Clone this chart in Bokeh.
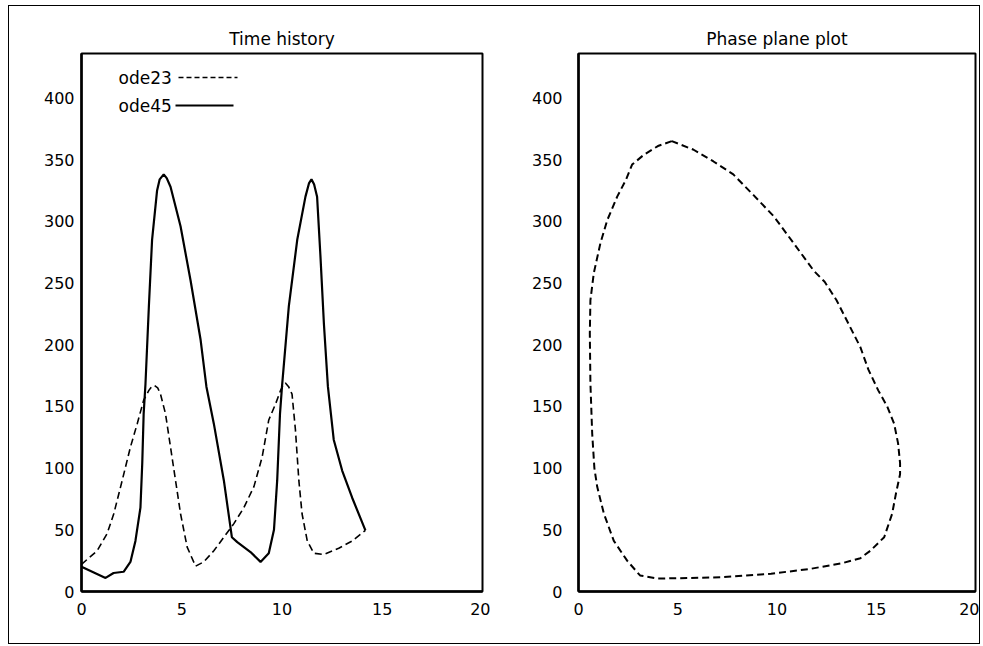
from bokeh.plotting import figure
from bokeh.layouts import row
from bokeh.models import Range1d, FixedTicker, Label, Arrow
from bokeh.embed import file_html
from bokeh.resources import INLINE

# ---- data ----
t_ode45 = [0.0, 1.2, 1.6, 2.1, 2.44, 2.69, 2.94, 3.03, 3.1, 3.19, 3.36, 3.52, 3.77, 3.9, 4.1,
           4.25, 4.44, 4.94, 5.44, 5.94, 6.23, 6.6, 7.1, 7.5, 7.77, 8.43, 8.93, 9.34, 9.6, 9.76,
           9.9, 10.0, 10.34, 10.76, 11.17, 11.35, 11.47, 11.6, 11.75, 11.92, 12.09, 12.29,
           12.58, 13.0, 13.5, 14.16]
y_ode45 = [20, 11, 15, 16, 24, 41, 68, 104, 144, 168, 231, 285, 325, 334, 338,
           335, 328, 296, 252, 204, 166, 136, 90, 44, 40, 32, 24, 31, 50, 90,
           144, 166, 231, 285, 320, 331, 334, 330, 320, 271, 217, 166,
           123, 98, 76, 49.5]

t_ode23 = [0.0, 0.78, 1.28, 1.61, 2.03, 2.44, 2.78, 3.1, 3.36, 3.5, 3.64, 3.8, 3.94, 4.19,
           4.44, 4.69, 4.94, 5.27, 5.69, 6.1, 6.6, 7.1, 7.6, 8.1, 8.6, 9.01, 9.34, 9.68,
           9.93, 10.05, 10.17, 10.33, 10.5, 10.67, 10.84, 11.0, 11.26, 11.59, 12.08, 12.83,
           13.5, 14.16]
y_ode23 = [22, 33, 47, 63, 90, 117, 136, 155, 163, 166, 167, 165, 160, 144,
           117, 90, 63, 36, 20.5, 24, 33, 44, 55, 68, 85, 109, 139, 152,
           163, 167, 169, 166, 160, 131, 90, 63, 41, 31, 30, 35,
           41, 49.5]

phase_x = [4.7, 4.0, 3.3, 2.7, 2.4, 1.95, 1.45, 1.1, 0.77, 0.6, 0.57, 0.6, 0.69, 0.8,
           0.94, 1.28, 1.78, 2.45, 3.1, 3.96, 5.1, 7.2, 9.7, 11.7, 13.3, 14.2, 14.7,
           15.4, 15.8, 16.0, 16.2, 16.2, 16.1, 15.9, 15.55, 15.1, 14.6, 14.2, 13.6,
           13.0, 12.4, 11.85, 10.85, 9.84, 8.83, 7.8, 6.8, 5.8, 4.7]
phase_y = [365, 361, 354, 346, 334, 320, 301, 282, 258, 236, 209, 169, 128, 100,
           85, 63, 41, 25, 13, 10.5, 10.8, 11.6, 14.4, 18.4, 23, 27, 33,
           44, 63, 80, 95, 104, 120, 136, 150, 163, 180, 198, 217,
           236, 251, 260, 282, 304, 321, 338, 348.5, 358, 365]

x_ticks = [0, 5, 10, 15, 20]
y_ticks = [0, 50, 100, 150, 200, 250, 300, 350, 400]
titles = ["Time history", "Phase plane plot"]
legend_labels = ["ode23", "ode45"]

FONT = "DejaVu Sans"


def make_fig(title, width, left, right, ylab_standoff):
    p = figure(width=width, height=637, output_backend="svg", toolbar_location=None,
               x_range=Range1d(0, 20), y_range=Range1d(0, 436),
               min_border_left=left, min_border_right=right,
               min_border_top=47, min_border_bottom=52, title=title)
    p.title.align = "center"
    p.title.text_font = FONT
    p.title.text_font_size = "17px"
    p.title.text_font_style = "normal"
    p.title.text_color = "black"
    p.xgrid.visible = False
    p.ygrid.visible = False
    p.outline_line_color = "black"
    p.outline_line_width = 2
    p.outline_line_alpha = 1
    p.background_fill_color = "white"
    p.border_fill_color = "white"
    p.xaxis.ticker = FixedTicker(ticks=x_ticks)
    p.yaxis.ticker = FixedTicker(ticks=y_ticks)
    for ax in (p.xaxis[0], p.yaxis[0]):
        ax.axis_line_color = "black"
        ax.axis_line_width = 2.5
        ax.major_tick_in = 0
        ax.major_tick_out = 0
        ax.minor_tick_in = 0
        ax.minor_tick_out = 0
        ax.major_label_text_font = FONT
        ax.major_label_text_font_size = "16px"
        ax.major_label_text_color = "black"
    p.xaxis.major_label_standoff = 11
    p.yaxis.major_label_standoff = ylab_standoff
    return p


p1 = make_fig(titles[0], 481, 72, 8, 7)
p1.line(t_ode23, y_ode23, line_color="black", line_width=1.6, line_dash="7 4")
p1.line(t_ode45, y_ode45, line_color="black", line_width=2.2)

# legend in MATLAB style: label followed by line sample (screen units, frame-relative)
p1.add_layout(Label(x=37, y=514, x_units="screen", y_units="screen", text=legend_labels[0],
                    text_font=FONT, text_font_size="17px", text_baseline="middle",
                    text_color="black"))
p1.add_layout(Label(x=37, y=486, x_units="screen", y_units="screen", text=legend_labels[1],
                    text_font=FONT, text_font_size="17px", text_baseline="middle",
                    text_color="black"))
p1.add_layout(Arrow(start=None, end=None, x_start=97, y_start=514, x_end=156, y_end=514,
                    start_units="screen", end_units="screen", line_color="black",
                    line_width=1.3, line_dash="5 3"))
p1.add_layout(Arrow(start=None, end=None, x_start=94, y_start=486, x_end=152, y_end=486,
                    start_units="screen", end_units="screen", line_color="black",
                    line_width=2))

p2 = make_fig(titles[1], 489, 88, 4, 16)
p2.line(phase_x, phase_y, line_color="black", line_width=2, line_dash="7 4")

layout = row(p1, p2, styles={"border": "1px solid black", "margin-left": "8px",
                             "margin-top": "5px"})

open("out.html", "w").write(file_html(layout, INLINE))
